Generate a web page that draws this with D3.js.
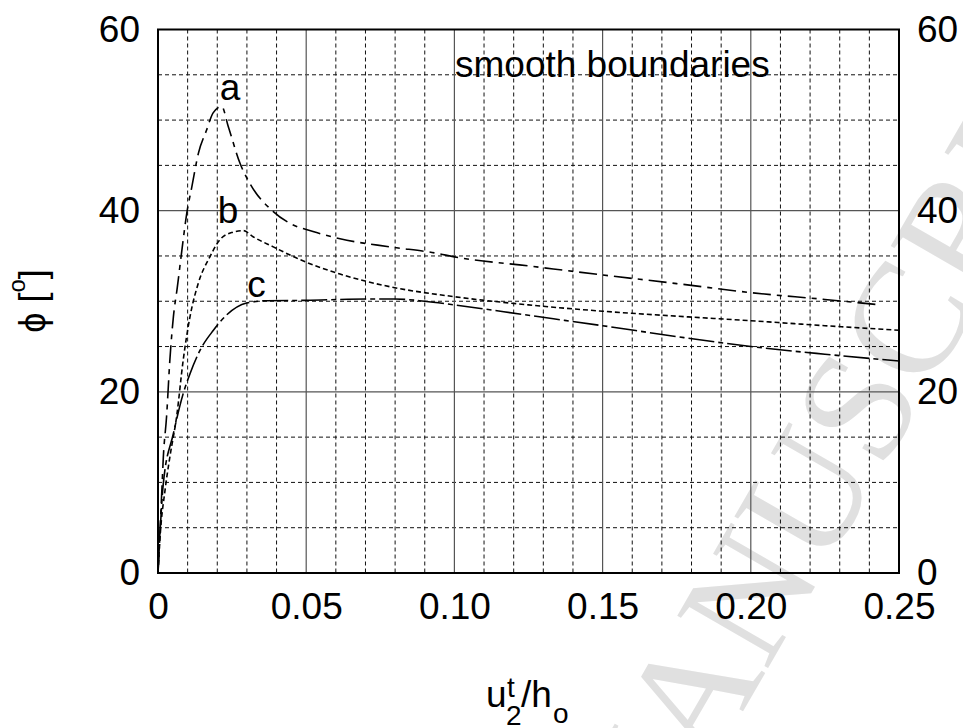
<!DOCTYPE html>
<html>
<head>
<meta charset="utf-8">
<script src="https://cdn.jsdelivr.net/npm/d3@7"></script>
<style>
  body { margin: 0; background: #fff; }
  svg { display: block; font-family: "Liberation Sans", Arial, sans-serif; }
</style>
</head>
<body>
<svg id="chart"></svg>
<script>
// data
var xTicks = [0, 0.05, 0.10, 0.15, 0.20, 0.25];
var xTickLabels = ["0", "0.05", "0.10", "0.15", "0.20", "0.25"];
var yTicks = [0, 20, 40, 60];
var xMinor = [0.01, 0.02, 0.03, 0.04, 0.06, 0.07, 0.08, 0.09, 0.11, 0.12, 0.13, 0.14, 0.16, 0.17, 0.18, 0.19, 0.21, 0.22, 0.23, 0.24];
var yMinor = [5, 10, 15, 25, 30, 35, 45, 50, 55];

var aX = [0, 0.0012, 0.0018, 0.0029, 0.004, 0.0052, 0.0065, 0.0085, 0.0097, 0.0114, 0.0136, 0.0164, 0.0186, 0.0215, 0.0237, 0.0277, 0.031, 0.0389, 0.0445, 0.0523, 0.0614, 0.0783, 0.094, 0.10, 0.125, 0.15, 0.175, 0.20, 0.225, 0.2436];
var aY = [0, 8.4, 12.8, 17.3, 23.5, 28.3, 31.5, 36.8, 39.7, 42.6, 46.3, 48.9, 50.8, 51.5, 49.3, 45.2, 43.0, 39.9, 38.6, 37.7, 36.9, 36.0, 35.3, 34.9, 33.9, 32.9, 31.95, 30.95, 30.2, 29.6];

var bX = [0, 0.0007, 0.0024, 0.004, 0.0063, 0.0085, 0.0108, 0.0136, 0.0175, 0.0209, 0.025, 0.0288, 0.0322, 0.0389, 0.0479, 0.0614, 0.0783, 0.10, 0.125, 0.15, 0.175, 0.20, 0.225, 0.25];
var bY = [0, 4, 9.2, 12.8, 17.3, 23.5, 28.3, 32.0, 34.9, 36.8, 37.6, 37.8, 37.1, 36.0, 34.6, 33.0, 31.6, 30.5, 29.6, 28.9, 28.35, 27.85, 27.3, 26.8];

var cX = [0, 0.0018, 0.0052, 0.0085, 0.0108, 0.0142, 0.0187, 0.0232, 0.0299, 0.0367, 0.05, 0.07, 0.08, 0.09, 0.10, 0.125, 0.15, 0.175, 0.20, 0.225, 0.25];
var cY = [0, 9.9, 15.4, 19.8, 22.0, 24.6, 26.8, 28.5, 29.8, 30.06, 30.1, 30.25, 30.25, 30.0, 29.6, 28.45, 27.3, 26.1, 25.0, 24.15, 23.4];

var curveNames = ["a", "b", "c"];
var labelX = [0.0243, 0.0236, 0.0332];
var labelY = [52.2, 38.6, 30.5];

var width = 963, height = 728;
var margin = {top: 29.5, right: 64, bottom: 155, left: 158};
var w = width - margin.left - margin.right,
    h = height - margin.top - margin.bottom;

var svg = d3.select("#chart").attr("width", width).attr("height", height);

// watermark behind everything
var wm = svg.append("g")
  .attr("transform", "translate(708,772) rotate(-60)")
  .style("font-family", "'Liberation Serif', 'Times New Roman', serif")
  .style("font-size", "160px")
  .attr("fill", "#e0e0e0");
wm.append("text").attr("text-anchor", "end").text("ACCEPTED M");
wm.append("text").attr("text-anchor", "start").text("ANUSCRIPT");

var g = svg.append("g").attr("transform", translate(margin.left, margin.top));

var x = d3.scaleLinear().domain([0, 0.25]).range([0, w]);
var y = d3.scaleLinear().domain([0, 60]).range([h, 0]);

// grid
g.append("g").selectAll("line").data(xMinor).enter().append("line")
  .attr("x1", d => x(d)).attr("x2", d => x(d)).attr("y1", 0).attr("y2", h)
  .attr("stroke", "#111").attr("stroke-width", 1).attr("stroke-dasharray", "4,3");
g.append("g").selectAll("line").data(yMinor).enter().append("line")
  .attr("y1", d => y(d)).attr("y2", d => y(d)).attr("x1", 0).attr("x2", w)
  .attr("stroke", "#111").attr("stroke-width", 1).attr("stroke-dasharray", "4,3");
g.append("g").selectAll("line").data(xTicks.slice(1, -1)).enter().append("line")
  .attr("x1", d => x(d)).attr("x2", d => x(d)).attr("y1", 0).attr("y2", h)
  .attr("stroke", "#555").attr("stroke-width", 1.2);
g.append("g").selectAll("line").data(yTicks.slice(1, -1)).enter().append("line")
  .attr("y1", d => y(d)).attr("y2", d => y(d)).attr("x1", 0).attr("x2", w)
  .attr("stroke", "#555").attr("stroke-width", 1.2);

// curves
var line = d3.line()
  .x(d => x(d[0])).y(d => y(d[1]))
  .curve(d3.curveMonotoneX);

var series = [
  {pts: d3.zip(aX, aY), dash: "18,6,5,6"},
  {pts: d3.zip(bX, bY), dash: "5,3"},
  {pts: d3.zip(cX, cY), dash: "26,4,5,4"}
];

g.append("g").selectAll("path").data(series).enter().append("path")
  .attr("d", d => line(d.pts))
  .attr("fill", "none")
  .attr("stroke", "#000")
  .attr("stroke-width", 1.6)
  .attr("stroke-dasharray", d => d.dash);

g.append("g").selectAll("text").data(curveNames).enter().append("text")
  .attr("x", (d, i) => x(labelX[i]))
  .attr("y", (d, i) => y(labelY[i]))
  .attr("text-anchor", "middle")
  .style("font-size", "37px")
  .text(d => d);

g.append("text")
  .attr("x", x(0.1002)).attr("y", y(54.8))
  .style("font-size", "37px")
  .text("smooth boundaries");

// frame
g.append("rect").attr("width", w).attr("height", h)
  .attr("fill", "none").attr("stroke", "#000").attr("stroke-width", 2);

// axes
var xAxis = d3.axisBottom(x).tickValues(xTicks).tickSize(0).tickPadding(20)
  .tickFormat((d, i) => xTickLabels[i]);
var yLeft = d3.axisLeft(y).tickValues(yTicks).tickSize(0).tickPadding(18);
var yRight = d3.axisRight(y).tickValues(yTicks).tickSize(0).tickPadding(18);

[g.append("g").attr("transform", translate(0, h)).call(xAxis),
 g.append("g").call(yLeft),
 g.append("g").attr("transform", translate(w, 0)).call(yRight)].forEach(function(ax) {
  ax.select(".domain").remove();
  ax.selectAll("text").style("font-size", "37px").style("font-family", "'Liberation Sans', Arial, sans-serif").attr("fill", "#000");
});

// x axis title u^t_2/h_o
var xt = svg.append("text").style("font-size", "37px");
xt.append("tspan").attr("x", 486).attr("y", 707).text("u");
xt.append("tspan").attr("x", 507).attr("y", 697).style("font-size", "28px").text("t");
xt.append("tspan").attr("x", 506).attr("y", 725).style("font-size", "28px").text("2");
xt.append("tspan").attr("x", 521).attr("y", 707).text("/h");
xt.append("tspan").attr("x", 553).attr("y", 723).style("font-size", "28px").text("o");

// y axis title
var yt = svg.append("text")
  .attr("transform", "translate(45,301) rotate(-90)")
  .attr("text-anchor", "middle")
  .style("font-size", "36px");
yt.append("tspan").text("\u03d5 [");
yt.append("tspan").attr("dy", -20).style("font-size", "24px").text("o");
yt.append("tspan").attr("dy", 20).text("]");

function translate(x, y) {
  return 'translate(' + String(x) + ',' + String(y) + ')';
}
</script>
</body>
</html>
